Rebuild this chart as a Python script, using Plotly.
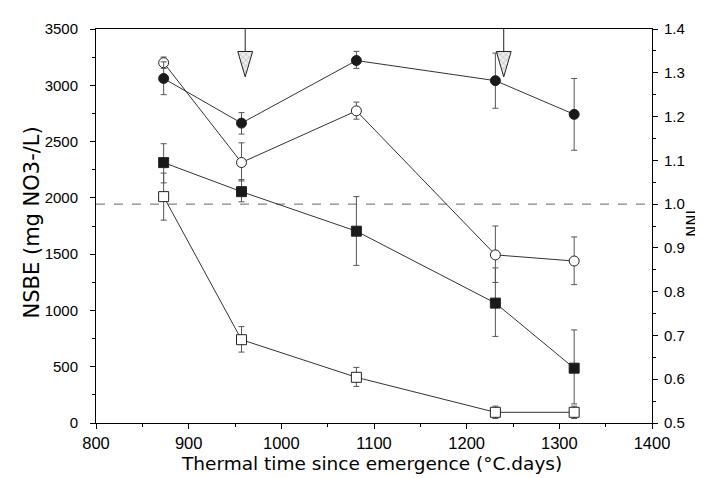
import plotly.graph_objects as go

# ---- data ----
thermal_time = [873, 957, 1081, 1231, 1316]

# NNI (right axis)
nni_filled = [1.287, 1.185, 1.328, 1.282, 1.205]
nni_filled_hi = [1.325, 1.209, 1.349, 1.345, 1.287]
nni_filled_lo = [1.250, 1.160, 1.310, 1.219, 1.123]

nni_open = [1.323, 1.095, 1.213, 0.884, 0.870]
nni_open_hi = [1.336, 1.140, 1.233, 0.950, 0.925]
nni_open_lo = [1.310, 1.053, 1.194, 0.821, 0.816]

# NSBE (left axis)
nsbe_filled = [2313, 2055, 1704, 1065, 487]
nsbe_filled_hi = [2481, 2162, 2011, 1378, 827]
nsbe_filled_lo = [2133, 1965, 1400, 769, 170]

nsbe_open = [2011, 740, 406, 95, 95]
nsbe_open_hi = [2220, 856, 494, 150, 150]
nsbe_open_lo = [1802, 630, 325, 40, 40]

nni_reference = 1.0
arrow_x = [961, 1240]

x_ticks = [800, 900, 1000, 1100, 1200, 1300, 1400]
y_left_ticks = [0, 500, 1000, 1500, 2000, 2500, 3000, 3500]
y_right_ticks = [0.5, 0.6, 0.7, 0.8, 0.9, 1.0, 1.1, 1.2, 1.3, 1.4]

x_title = "Thermal time since emergence (°C.days)"
y_title = "NSBE (mg NO3-/L)"
y2_title = "NNI"

FONT = "Liberation Sans, Arial, sans-serif"
TITLE_FONT = "DejaVu Sans, Liberation Sans, sans-serif"
LINE_COL = "#333333"
ERR_COL = "#555555"


def err(vals, hi, lo):
    return dict(type="data", symmetric=False,
                array=[h - v for v, h in zip(vals, hi)],
                arrayminus=[v - l for v, l in zip(vals, lo)],
                color=ERR_COL, thickness=1, width=3)


fig = go.Figure()

# dashed NNI = 1 reference line
fig.add_shape(type="line", xref="paper", x0=0, x1=1, yref="y2",
              y0=nni_reference, y1=nni_reference,
              line=dict(color="#666666", width=1, dash="dash"), layer="below")

def add_series(xv, yv, hi, lo, symbol, fill, axis):
    fig.add_trace(go.Scatter(
        x=xv, y=yv, mode="lines+markers", yaxis=axis,
        line=dict(color=LINE_COL, width=1),
        marker=dict(symbol=symbol, size=10, color=fill,
                    line=dict(color="#222222", width=1)),
        error_y=err(yv, hi, lo), showlegend=False))

add_series(thermal_time, nsbe_open, nsbe_open_hi, nsbe_open_lo, "square", "white", "y")
add_series(thermal_time, nsbe_filled, nsbe_filled_hi, nsbe_filled_lo, "square", "#1a1a1a", "y")
add_series(thermal_time, nni_open, nni_open_hi, nni_open_lo, "circle", "white", "y2")
add_series(thermal_time, nni_filled, nni_filled_hi, nni_filled_lo, "circle", "#1a1a1a", "y2")

# arrows (stem + hatched triangle head)
for ax in arrow_x:
    fig.add_trace(go.Scatter(x=[ax, ax], y=[3500, 3300], mode="lines", yaxis="y",
                             line=dict(color="#222222", width=1),
                             showlegend=False, hoverinfo="skip"))
    fig.add_trace(go.Scatter(x=[ax - 8, ax + 8, ax, ax - 8],
                             y=[3300, 3300, 3075, 3300], mode="lines", yaxis="y",
                             fill="toself", fillcolor="#d8d8d8",
                             fillpattern=dict(shape="x", fgcolor="#888888",
                                              bgcolor="#eeeeee", size=4, solidity=0.3),
                             line=dict(color="#222222", width=1),
                             showlegend=False, hoverinfo="skip"))

# axis titles as annotations for exact placement
fig.add_annotation(text=x_title, xref="paper", yref="paper", x=0.496, y=0,
                   xanchor="center", yanchor="middle", yshift=-40,
                   showarrow=False, font=dict(family=TITLE_FONT, size=18.5))
fig.add_annotation(text=y_title, xref="paper", yref="paper", x=0, y=0.509,
                   xanchor="center", yanchor="middle", xshift=-64, textangle=-90,
                   showarrow=False, font=dict(family=TITLE_FONT, size=21))
fig.add_annotation(text=y2_title, xref="paper", yref="paper", x=1, y=0.505,
                   xanchor="center", yanchor="middle", xshift=41, textangle=-90,
                   showarrow=False, font=dict(family=TITLE_FONT, size=15))

fig.update_layout(
    width=703, height=478,
    margin=dict(l=88, r=59, t=13, b=63),
    paper_bgcolor="white", plot_bgcolor="white",
    font=dict(family=FONT, size=15, color="black"),
    xaxis=dict(range=[800, 1400], tickvals=x_ticks, showgrid=False, zeroline=False,
               showline=True, linecolor="black", linewidth=1, mirror=True,
               ticks="outside", ticklen=5, tickcolor="black",
               tickfont=dict(size=16.5),
               minor=dict(ticks="outside", ticklen=3, dtick=50, tickcolor="black")),
    yaxis=dict(range=[0, 3500], tickvals=y_left_ticks, showgrid=False, zeroline=False,
               showline=True, linecolor="black", linewidth=1,
               ticks="outside", ticklen=5, tickcolor="black",
               tickfont=dict(size=15), ticklabelstandoff=9,
               minor=dict(ticks="outside", ticklen=3, dtick=250, tickcolor="black")),
    yaxis2=dict(range=[0.5, 1.4], tickvals=y_right_ticks, tickformat=".1f",
                overlaying="y", side="right", showgrid=False, zeroline=False,
                showline=True, linecolor="black", linewidth=1,
                ticks="outside", ticklen=5, tickcolor="black",
                tickfont=dict(size=15), ticklabelstandoff=3,
                minor=dict(ticks="outside", ticklen=3, dtick=0.05, tickcolor="black")),
)

fig.write_html("out.html")
